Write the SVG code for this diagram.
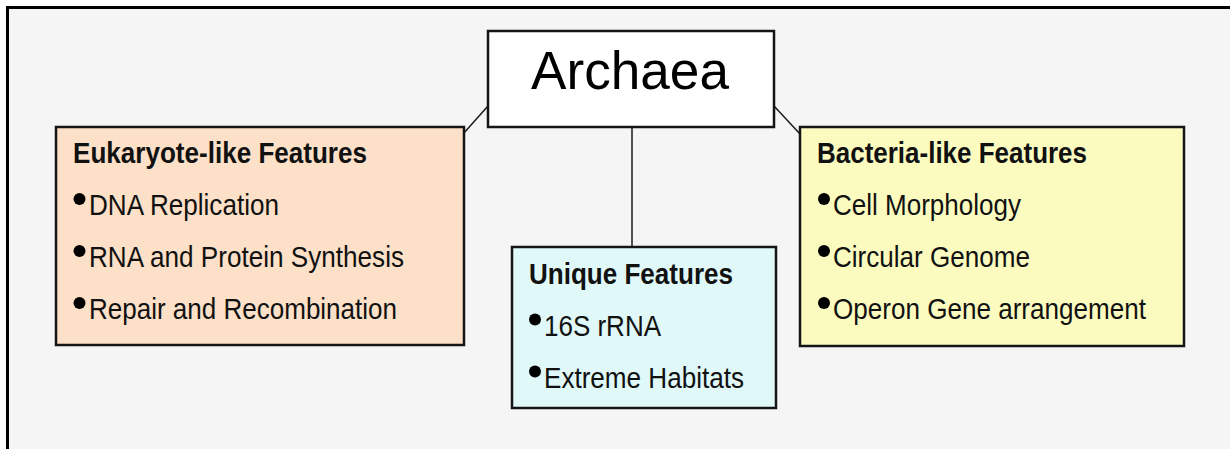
<svg xmlns="http://www.w3.org/2000/svg" width="1230" height="449" viewBox="0 0 1230 449">
  <style>
    .box { stroke: #151515; stroke-width: 2.5; }
    .link { stroke: #1a1a1a; stroke-width: 1.5; fill: none; }
    .head { font-family: "Liberation Sans", Arial, sans-serif; font-size: 30px; font-weight: bold; fill: #111; }
    .item { font-family: "Liberation Sans", Arial, sans-serif; font-size: 29px; fill: #111; }
    .title { font-family: "Liberation Sans", Arial, sans-serif; font-size: 54px; fill: #000; }
    .dot { fill: #000; }
  </style>

  <!-- page background and frame -->
  <rect x="0" y="0" width="1230" height="449" fill="#ffffff"/>
  <rect x="7" y="7" width="1223" height="442" fill="#f5f5f5"/>
  <path d="M7.5 449 V7.5 H1230" fill="none" stroke="#000" stroke-width="3"/>

  <!-- connectors -->
  <g id="connectors">
    <line class="link" x1="488" y1="106" x2="463" y2="134"/>
    <line class="link" x1="774" y1="106" x2="800" y2="134"/>
    <line class="link" x1="632" y1="127" x2="632" y2="247"/>
  </g>

  <!-- root node -->
  <g id="archaea">
    <rect class="box" x="488" y="31" width="286" height="96" fill="#ffffff"/>
    <text class="title" x="630" y="89" text-anchor="middle" textLength="198" lengthAdjust="spacingAndGlyphs">Archaea</text>
  </g>

  <!-- eukaryote-like features -->
  <g id="eukaryote">
    <rect class="box" x="56" y="127" width="408" height="218" fill="#fce0c8"/>
    <text class="head" x="73" y="163" textLength="294" lengthAdjust="spacingAndGlyphs">Eukaryote-like Features</text>
    <circle class="dot" cx="79.5" cy="199" r="6"/>
    <text class="item" x="89" y="215" textLength="190" lengthAdjust="spacingAndGlyphs">DNA Replication</text>
    <circle class="dot" cx="79.5" cy="251" r="6"/>
    <text class="item" x="89" y="267" textLength="315" lengthAdjust="spacingAndGlyphs">RNA and Protein Synthesis</text>
    <circle class="dot" cx="79.5" cy="303" r="6"/>
    <text class="item" x="89" y="319" textLength="308" lengthAdjust="spacingAndGlyphs">Repair and Recombination</text>
  </g>

  <!-- unique features -->
  <g id="unique">
    <rect class="box" x="512" y="247" width="264" height="161" fill="#e0f8f8"/>
    <text class="head" x="529" y="283.5" textLength="204" lengthAdjust="spacingAndGlyphs">Unique Features</text>
    <circle class="dot" cx="535" cy="319.5" r="6"/>
    <text class="item" x="544" y="335.5" textLength="117" lengthAdjust="spacingAndGlyphs">16S rRNA</text>
    <circle class="dot" cx="535" cy="371.5" r="6"/>
    <text class="item" x="544" y="387.5" textLength="200" lengthAdjust="spacingAndGlyphs">Extreme Habitats</text>
  </g>

  <!-- bacteria-like features -->
  <g id="bacteria">
    <rect class="box" x="800" y="127" width="384" height="219" fill="#fbfbc0"/>
    <text class="head" x="817" y="163" textLength="270" lengthAdjust="spacingAndGlyphs">Bacteria-like Features</text>
    <circle class="dot" cx="824" cy="199" r="6"/>
    <text class="item" x="833" y="215" textLength="188" lengthAdjust="spacingAndGlyphs">Cell Morphology</text>
    <circle class="dot" cx="824" cy="251" r="6"/>
    <text class="item" x="833" y="267" textLength="197" lengthAdjust="spacingAndGlyphs">Circular Genome</text>
    <circle class="dot" cx="824" cy="303" r="6"/>
    <text class="item" x="833" y="319" textLength="313" lengthAdjust="spacingAndGlyphs">Operon Gene arrangement</text>
  </g>
</svg>
